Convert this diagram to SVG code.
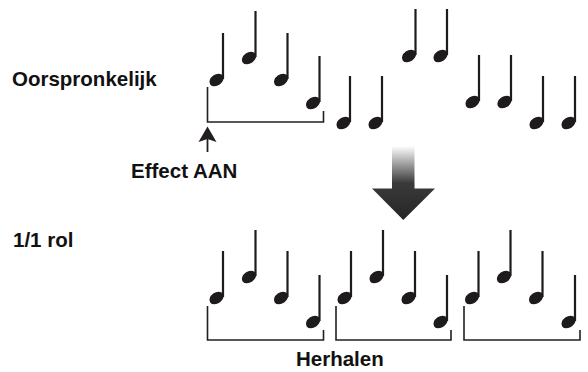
<svg xmlns="http://www.w3.org/2000/svg" xmlns:xlink="http://www.w3.org/1999/xlink" width="588" height="372" viewBox="0 0 588 372">
<style>
.lbl{font-family:"Liberation Sans",Arial,sans-serif;font-weight:bold;font-size:20.5px;fill:#111}
.br{fill:none;stroke:#231f20;stroke-width:1.6}
.nt{fill:#1e1b1c}
</style>
<defs>
<g id="note" class="nt">
<ellipse cx="0" cy="0" rx="7.7" ry="5.6" transform="rotate(-35)"/>
<rect x="5.4" y="-47" width="2.2" height="46"/>
</g>
<linearGradient id="grad" x1="0" y1="146" x2="0" y2="220" gradientUnits="userSpaceOnUse">
<stop offset="0" stop-color="#ffffff"/>
<stop offset="0.5" stop-color="#3a3a3a"/>
<stop offset="1" stop-color="#262626"/>
</linearGradient>
</defs>
<rect width="588" height="372" fill="#fff"/>
<g id="labels">
<text class="lbl" x="12" y="86">Oorspronkelijk</text>
<text class="lbl" x="131" y="178">Effect AAN</text>
<text class="lbl" x="13" y="247">1/1 rol</text>
<text class="lbl" x="296" y="366">Herhalen</text>
</g>
<g id="original-notes">
<use xlink:href="#note" x="216.5" y="80"/>
<use xlink:href="#note" x="249" y="58"/>
<use xlink:href="#note" x="281" y="80"/>
<use xlink:href="#note" x="313" y="103"/>
<use xlink:href="#note" x="343.5" y="123"/>
<use xlink:href="#note" x="375.5" y="123"/>
<use xlink:href="#note" x="409" y="56"/>
<use xlink:href="#note" x="440.5" y="56"/>
<use xlink:href="#note" x="472.5" y="102"/>
<use xlink:href="#note" x="504.5" y="102"/>
<use xlink:href="#note" x="536.5" y="123"/>
<use xlink:href="#note" x="568.5" y="123"/>
</g>
<g id="repeat-notes">
<use xlink:href="#note" x="216.5" y="298"/>
<use xlink:href="#note" x="249" y="277"/>
<use xlink:href="#note" x="281" y="298"/>
<use xlink:href="#note" x="313" y="322"/>
<use xlink:href="#note" x="344.5" y="298"/>
<use xlink:href="#note" x="376.5" y="277"/>
<use xlink:href="#note" x="408.5" y="298"/>
<use xlink:href="#note" x="440.5" y="322"/>
<use xlink:href="#note" x="472" y="298"/>
<use xlink:href="#note" x="504" y="277"/>
<use xlink:href="#note" x="536" y="298"/>
<use xlink:href="#note" x="568.5" y="322"/>
</g>
<g id="connectors">
<path class="br" d="M207.5,87 V122 H323.5 V111"/>
<path class="br" d="M207.5,306 V340 H323.5 V330"/>
<path class="br" d="M336,306 V340 H451 V330"/>
<path class="br" d="M464,306 V340 H580 V330"/>
<line x1="207.5" y1="138" x2="207.5" y2="152" stroke="#231f20" stroke-width="1.8"/>
<path d="M207.5,126.5 L216.5,142 L207.5,139 L198.5,142 Z" fill="#231f20"/>
<path d="M392,146 H414.5 V188.5 H435 L403.3,220 L372,188.5 H392 Z" fill="url(#grad)"/>
</g>
</svg>
